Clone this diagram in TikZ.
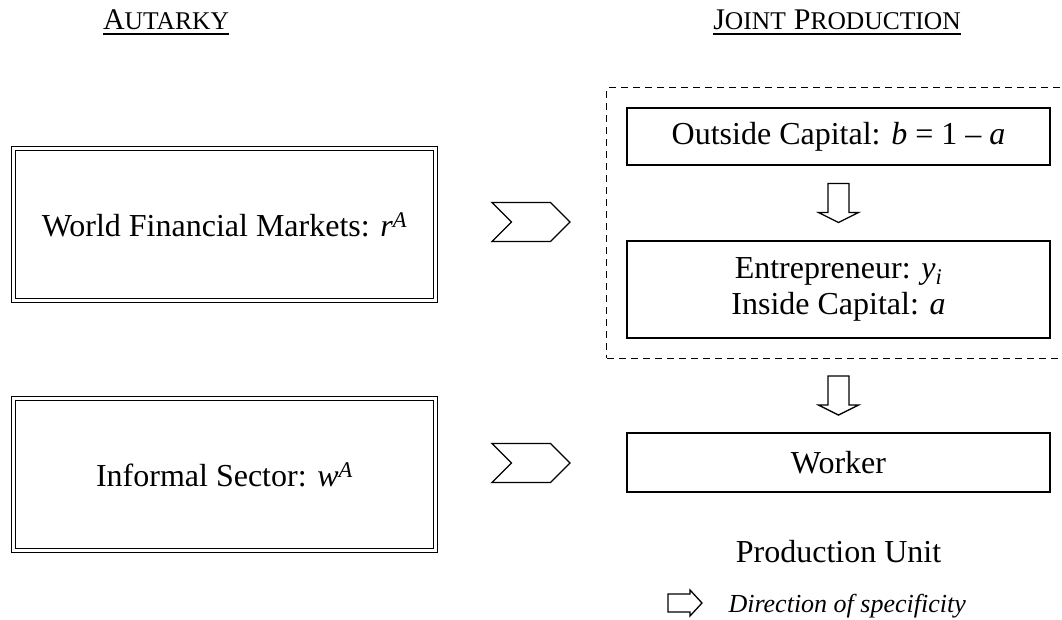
\documentclass[tikz,border=0pt]{standalone}
\usepackage{fontspec}
\setmainfont{Liberation Serif}
\usetikzlibrary{shapes.symbols,fit,calc,positioning}

\newcommand{\smcap}[2]{{\fontsize{30}{36}\selectfont #1}{\fontsize{25.5}{30}\selectfont #2}}

\begin{document}
\begin{tikzpicture}[x=1pt,y=-1pt,
  every node/.style={font=\fontsize{32}{34}\selectfont},
  title/.style={inner sep=0pt,anchor=base},
  dblbox/.style={draw,double,double distance=2.2pt,line width=1.5pt,
    minimum width=422pt,minimum height=152pt},
  unitbox/.style={draw,line width=1.3pt,minimum width=423pt,align=center},
  chevron/.style={draw,line width=1.3pt,signal,signal from=west,signal to=east,
    minimum width=78pt,minimum height=39pt,inner sep=0pt},
  pics/blockdown/.style={code={
    \draw[line width=1.3pt,fill=white] (-10.5,-19.5) -- (10.5,-19.5) -- (10.5,9.5)
      -- (20,9.5) -- (0,19.5) -- (-20,9.5) -- (-10.5,9.5) -- cycle;}},
  pics/blockright/.style={code={
    \draw[line width=1.3pt,fill=white] (-17,-9) -- (5,-9) -- (5,-13)
      -- (17,0) -- (5,13) -- (5,9) -- (-17,9) -- cycle;}}]
\useasboundingbox (0,0) rectangle (1062,620);

% headings
\node[title] (aut) at (166,30) {\smcap{A}{UTARKY}};
\node[title] (joint) at (837,30) {\smcap{J}{OINT} \smcap{P}{RODUCTION}};
\draw[line width=1.5pt] ([yshift=-4pt]aut.base west) -- ([yshift=-4pt]aut.base east);
\draw[line width=1.5pt] ([yshift=-4pt]joint.base west) -- ([yshift=-4pt]joint.base east);

% autarky side
\node[dblbox] (wfm) at (224.5,224.5) {World Financial Markets: \textit{r}\textsuperscript{\textit{A}}};
\node[dblbox] (infs) at (224.5,474.5) {Informal Sector: \textit{w}\textsuperscript{\textit{A}}};
\node[chevron] (chv1) at (531,222) {};
\node[chevron] (chv2) at (531,463) {};

% production unit
\node[unitbox,minimum height=57pt] (outcap) at (838.5,136.5) {Outside Capital: \textit{b} = 1 \textendash{} \textit{a}};
\node[unitbox,minimum height=97pt] (entre) at (838.5,289.5)
  {Entrepreneur: \textit{y}\textsubscript{\textit{i}}\\[2pt]Inside Capital: \textit{a}};
\node[unitbox,minimum height=59pt] (worker) at (838.5,462.5) {Worker};
\node[draw,dashed,dash pattern=on 7pt off 5pt,line width=1.2pt,fit=(outcap)(entre),inner sep=19.5pt] (joint box) {};

\pic at ($(outcap.south)!0.5!(entre.north)$) {blockdown};
\pic at ($(joint box.south)!0.5!(worker.north)$) {blockdown};

% legend
\node[anchor=base] (punit) at (838.5,562) {Production Unit};
\node[anchor=base west,font=\fontsize{26}{30}\selectfont\itshape] (legtxt) at (725,612) {Direction of specificity};
\pic at (685,603) {blockright};
\end{tikzpicture}
\end{document}
